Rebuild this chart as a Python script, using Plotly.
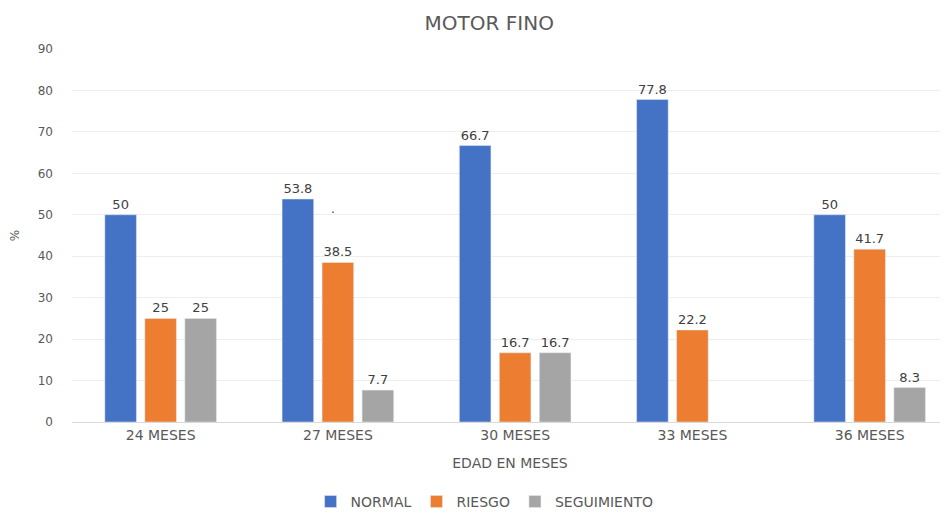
import plotly.graph_objects as go

# ── data ─────────────────────────────────────────────────────────────

categories = ["24 MESES", "27 MESES", "30 MESES", "33 MESES", "36 MESES"]
normal = [50, 53.8, 66.7, 77.8, 50]
riesgo = [25, 38.5, 16.7, 22.2, 41.7]
seguimiento = [25, 7.7, 16.7, None, 8.3]

COLORS = {"normal": "#4472C4", "riesgo": "#ED7D31", "seguimiento": "#A5A5A5"}
FONT = "DejaVu Sans, Verdana, sans-serif"
GREY = "#595959"

# ── chart ────────────────────────────────────────────────────────────

fig = go.Figure()
for name, vals, key in [
    ("NORMAL", normal, "normal"),
    ("RIESGO", riesgo, "riesgo"),
    ("SEGUIMIENTO", seguimiento, "seguimiento"),
]:
    fig.add_trace(
        go.Bar(
            name=name,
            x=categories,
            y=vals,
            marker_color=COLORS[key],
            text=[f"{v:g}" if v is not None else "" for v in vals],
            textposition="outside",
            textfont={"size": 13, "color": "#404040", "family": FONT},
            cliponaxis=False,
        )
    )

# stray mark present in the original image
fig.add_annotation(
    x="27 MESES", y=51, text=".", showarrow=False, xshift=-5, yshift=2,
    font={"size": 12, "color": "#404040", "family": FONT},
)

# page body has an 8px margin, so the figure is sized to fit the window
fig.update_layout(
    width=940,
    height=506,
    margin={"l": 64, "r": 0, "t": 41, "b": 92},
    paper_bgcolor="white",
    plot_bgcolor="white",
    barmode="group",
    bargap=0.323,
    bargroupgap=0.21,
    font={"family": FONT, "size": 13, "color": GREY},
    title={
        "text": "MOTOR FINO",
        "x": 0.512,
        "xanchor": "center",
        "y": 0.985,
        "yanchor": "top",
        "pad": {"t": 0, "b": 0},
        "font": {"size": 20, "color": GREY, "family": FONT},
    },
    legend={
        "orientation": "h",
        "x": 0.471,
        "xanchor": "center",
        "yref": "container",
        "y": 0.024,
        "yanchor": "middle",
        "font": {"size": 14, "color": GREY},
        "itemwidth": 30,
        "traceorder": "normal",
    },
)
fig.update_xaxes(
    title={"text": "EDAD EN MESES", "font": {"size": 14, "color": GREY}, "standoff": 16},
    range=[-0.5, 4.442],
    showline=True,
    linecolor="#D9D9D9",
    ticks="",
    tickfont={"size": 14, "color": GREY},
)
fig.update_yaxes(
    title={"text": "%", "font": {"size": 12, "color": GREY}, "standoff": 18},
    range=[0, 90],
    dtick=10,
    showgrid=True,
    gridcolor="#EEEEEE",
    zeroline=False,
    tickfont={"size": 12, "color": GREY},
    ticklabelstandoff=18,
)

fig.write_html("out.html")
